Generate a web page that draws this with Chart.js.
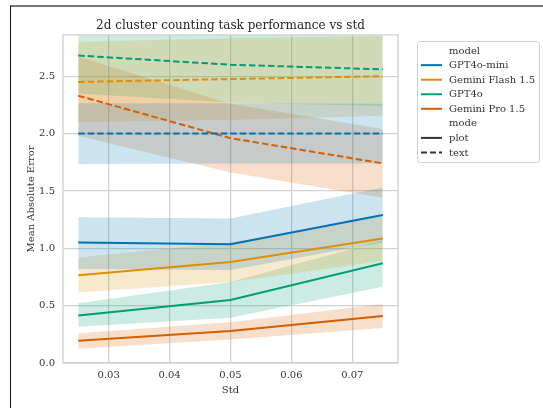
<!DOCTYPE html>
<html>
<head>
<meta charset="utf-8">
<script src="https://cdn.jsdelivr.net/npm/chart.js@4.4.1/dist/chart.umd.min.js"></script>
<style>
html, body { margin: 0; padding: 0; background: #fff; }
#wrap { position: relative; width: 543px; height: 408px; overflow: hidden; }
#frame { position: absolute; left: 10px; top: 5px; right: 0; bottom: 0; border-top: 2px solid #777; border-left: 1px solid #111; pointer-events: none; }
canvas { position: absolute; left: 0; top: 0; }
</style>
</head>
<body>
<div id="wrap">
  <canvas id="myChart" width="543" height="408"></canvas>
  <div id="frame"></div>
</div>
<script>
let stds = [0.025, 0.05, 0.075];
let xTicks = [0.03, 0.04, 0.05, 0.06, 0.07];
let yTicks = [0, 0.5, 1.0, 1.5, 2.0, 2.5];
let models = ['GPT4o-mini', 'Gemini Flash 1.5', 'GPT4o', 'Gemini Pro 1.5'];
let colorHex = ['#0173b2', '#de8f05', '#029e73', '#d55e00'];
let fillHex = ['rgba(1,115,178,0.2)', 'rgba(222,143,5,0.2)', 'rgba(2,158,115,0.2)', 'rgba(213,94,0,0.2)'];

// mode = plot (solid)
let plotMean = [[1.05, 1.035, 1.29], [0.765, 0.88, 1.085], [0.415, 0.55, 0.87], [0.195, 0.278, 0.41]];
let plotLow  = [[0.82, 0.81, 1.05], [0.615, 0.705, 0.89], [0.315, 0.395, 0.665], [0.125, 0.205, 0.305]];
let plotHigh = [[1.27, 1.26, 1.53], [0.92, 1.05, 1.28], [0.52, 0.705, 1.07], [0.26, 0.355, 0.515]];

// mode = text (dashed)
let textMean = [[2.0, 2.0, 2.0], [2.45, 2.475, 2.5], [2.68, 2.6, 2.56], [2.33, 1.96, 1.74]];
let textLow  = [[1.735, 1.74, 1.74], [2.1, 2.12, 2.155], [2.35, 2.27, 2.24], [1.98, 1.66, 1.44]];
let textHigh = [[2.265, 2.265, 2.26], [2.8, 2.83, 2.85], [3.01, 2.93, 2.88], [2.67, 2.26, 2.04]];

let serif = "'DejaVu Serif', 'Liberation Serif', serif";
let gridColor = '#d2d2d2';
let textColor = '#333';

function pts(arr) {
  return arr.map((v, i) => ({ x: stds[i], y: v }));
}

// chart.js paints the first dataset last, so the lines go in first to sit on top
let datasets = [];
models.forEach((m, i) => {
  datasets.push({ label: m + ' plot', data: pts(plotMean[i]), borderColor: colorHex[i], borderWidth: 2, pointRadius: 0, fill: false });
  datasets.push({ label: m + ' text', data: pts(textMean[i]), borderColor: colorHex[i], borderWidth: 2, borderDash: [6.5, 3], pointRadius: 0, fill: false });
});
[[plotLow, plotHigh], [textLow, textHigh]].forEach(([lo, hi]) => {
  models.forEach((m, i) => {
    datasets.push({ data: pts(lo[i]), borderWidth: 0, pointRadius: 0, fill: false });
    datasets.push({ data: pts(hi[i]), borderWidth: 0, pointRadius: 0, fill: '-1', backgroundColor: fillHex[i] });
  });
});

let boxPlugin = {
  id: 'box',
  afterDatasetsDraw(chart) {
    let a = chart.chartArea;
    let ctx = chart.ctx;
    ctx.save();
    ctx.strokeStyle = gridColor;
    ctx.lineWidth = 1.3;
    ctx.strokeRect(a.left, a.top, a.right - a.left, a.bottom - a.top);
    ctx.restore();
  }
};

let legendPlugin = {
  id: 'sideLegend',
  afterDraw(chart) {
    let ctx = chart.ctx;
    ctx.save();
    let x0 = 417.5, y0 = 41.5, w = 122, h = 121, r = 3;
    ctx.beginPath();
    ctx.moveTo(x0 + r, y0);
    ctx.arcTo(x0 + w, y0, x0 + w, y0 + h, r);
    ctx.arcTo(x0 + w, y0 + h, x0, y0 + h, r);
    ctx.arcTo(x0, y0 + h, x0, y0, r);
    ctx.arcTo(x0, y0, x0 + w, y0, r);
    ctx.closePath();
    ctx.fillStyle = 'rgba(255,255,255,0.8)';
    ctx.fill();
    ctx.strokeStyle = '#d0d0d0';
    ctx.lineWidth = 1;
    ctx.stroke();

    let items = [
      { text: 'model' },
      { text: models[0], color: colorHex[0] },
      { text: models[1], color: colorHex[1] },
      { text: models[2], color: colorHex[2] },
      { text: models[3], color: colorHex[3] },
      { text: 'mode' },
      { text: 'plot', color: '#333' },
      { text: 'text', color: '#333', dash: true }
    ];
    ctx.font = '10px ' + serif;
    ctx.textBaseline = 'middle';
    ctx.textAlign = 'left';
    items.forEach((it, k) => {
      let y = 50.6 + k * 14.55;
      if (it.color) {
        ctx.beginPath();
        ctx.strokeStyle = it.color;
        ctx.lineWidth = 2;
        ctx.setLineDash(it.dash ? [6, 3] : []);
        ctx.moveTo(421, y);
        ctx.lineTo(442, y);
        ctx.stroke();
        ctx.setLineDash([]);
      }
      ctx.fillStyle = textColor;
      ctx.fillText(it.text, 449, y + 0.5);
    });
    ctx.restore();
  }
};

let ctx1 = document.getElementById('myChart').getContext('2d');
let myChart = new Chart(ctx1, {
  type: 'line',
  data: { datasets: datasets },
  options: {
    responsive: false,
    animation: false,
    layout: { padding: { left: 0, top: 0, right: 145, bottom: 0 } },
    plugins: {
      legend: { display: false },
      tooltip: { enabled: false },
      title: {
        display: true,
        fullSize: false,
        text: '2d cluster counting task performance vs std',
        color: '#262626',
        font: { family: serif, size: 12, weight: 'normal' },
        padding: { top: 19, bottom: 1.5 }
      }
    },
    scales: {
      x: {
        type: 'linear',
        min: 0.0225,
        max: 0.0775,
        afterBuildTicks: (s) => { s.ticks = xTicks.map(v => ({ value: v })); },
        afterFit: (s) => { s.height = 45; },
        ticks: {
          callback: (v) => Number(v).toFixed(2),
          color: textColor,
          font: { family: serif, size: 10 },
          padding: 6,
          maxRotation: 0
        },
        grid: { color: gridColor, lineWidth: 1.3, drawTicks: false },
        border: { display: false },
        title: {
          display: true,
          text: 'Std',
          color: textColor,
          font: { family: serif, size: 10 },
          padding: { top: 0, bottom: 12 }
        }
      },
      y: {
        min: 0,
        max: 2.86,
        afterBuildTicks: (s) => { s.ticks = yTicks.map(v => ({ value: v })); },
        afterFit: (s) => { s.width = 63; },
        ticks: {
          callback: (v) => Number(v).toFixed(1),
          color: textColor,
          font: { family: serif, size: 10 },
          padding: 8
        },
        grid: { color: gridColor, lineWidth: 1.3, drawTicks: false },
        border: { display: false },
        title: {
          display: true,
          text: 'Mean Absolute Error',
          color: textColor,
          font: { family: serif, size: 10 },
          padding: { top: 25, bottom: 0 }
        }
      }
    }
  },
  plugins: [boxPlugin, legendPlugin]
});
</script>
</body>
</html>
